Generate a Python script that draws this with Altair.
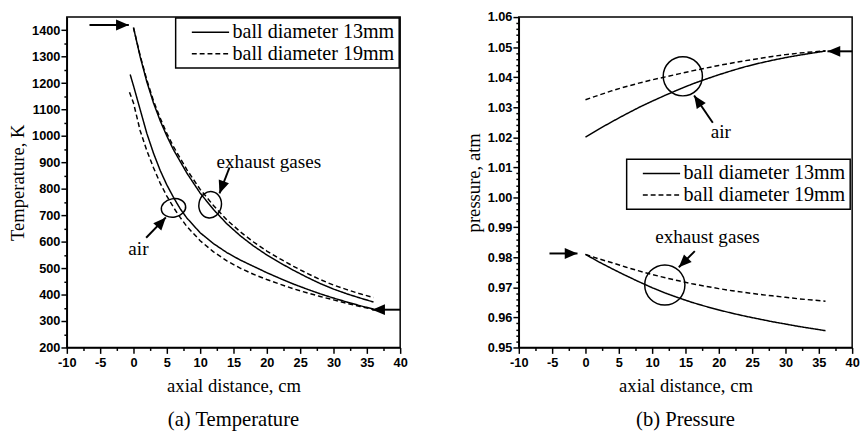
import altair as alt
import pandas as pd

SERIES = ["ball diameter 13mm", "ball diameter 19mm"]

# ---------------- (a) Temperature ----------------
x_exh = [0, 1, 2, 3, 4, 5, 6, 8, 10, 12, 14, 16, 18, 20, 22, 24, 26, 28, 30, 32, 34, 36]
T_exh_13 = [1410, 1300, 1205, 1125, 1058, 1000, 948, 860, 784, 722, 668, 623, 584, 550,
            520, 492, 466, 442, 421, 403, 387, 372]
T_exh_19 = [1410, 1304, 1212, 1133, 1068, 1010, 960, 873, 798, 737, 683, 638, 599, 565,
            535, 507, 481, 457, 436, 419, 403, 389]

x_air_13 = [-0.5, 0, 1, 2, 3, 4, 5, 6, 7, 8, 10, 12, 14, 16, 18, 20, 22, 24, 26, 28, 30, 32, 34, 36]
T_air_13 = [1233, 1190, 1100, 1010, 935, 870, 815, 768, 725, 690, 634, 593, 559, 531, 507,
            483, 461, 440, 421, 403, 387, 372, 358, 345]
x_air_19 = [-0.6, 0, 1, 2, 3, 4, 5, 6, 7, 8, 10, 12, 14, 16, 18, 20, 22, 24, 26, 28, 30, 32, 34, 36]
T_air_19 = [1166, 1125, 1020, 945, 880, 822, 773, 730, 692, 658, 604, 562, 528, 500, 477,
            457, 439, 422, 407, 393, 380, 367, 355, 344]

# ---------------- (b) Pressure ----------------
x_p = [0, 2, 4, 6, 8, 10, 12, 14, 16, 18, 20, 22, 24, 26, 28, 30, 32, 34, 36]
P_air_13 = [1.0200, 1.0227, 1.0252, 1.0276, 1.0299, 1.0320, 1.0340, 1.0359, 1.0377, 1.0393,
            1.0408, 1.0422, 1.0435, 1.0446, 1.0456, 1.0465, 1.0473, 1.0480, 1.0487]
P_air_19 = [1.0325, 1.0340, 1.0355, 1.0368, 1.0380, 1.0391, 1.0401, 1.0411, 1.0421, 1.0430,
            1.0439, 1.0447, 1.0455, 1.0462, 1.0469, 1.0475, 1.0480, 1.0484, 1.0488]
P_exh_13 = [0.9810, 0.9785, 0.9762, 0.9740, 0.9719, 0.9699, 0.9681, 0.9665, 0.9650, 0.9637,
            0.9625, 0.9614, 0.9604, 0.9595, 0.9586, 0.9578, 0.9570, 0.9563, 0.9556]
P_exh_19 = [0.9810, 0.9795, 0.9782, 0.9768, 0.9755, 0.9743, 0.9732, 0.9722, 0.9712, 0.9704,
            0.9696, 0.9689, 0.9683, 0.9677, 0.9672, 0.9667, 0.9662, 0.9658, 0.9654]

# ---------------- annotations ----------------
T_arrow_x = [-6.6, 40.0, 14.4, 1.9]
T_arrow_y = [1420, 343, 881, 615]
T_arrow_x2 = [-0.7, 35.8, 12.9, 4.85]
T_arrow_y2 = [1420, 343, 783, 692]
T_arrow_angle = [0, 180, 110, 312]

P_arrow_x = [40.0, -5.4, 19.1, 16.4]
P_arrow_y = [1.0486, 0.9813, 1.0248, 0.9821]
P_arrow_x2 = [36.3, -1.2, 16.3, 14.0]
P_arrow_y2 = [1.0486, 0.9813, 1.0339, 0.9767]
P_arrow_angle = [180, 0, 236, 135]

T_text = ["exhaust gases", "air"]
T_text_x = [20.3, 0.74]
T_text_y = [903, 572]
P_text = ["air", "exhaust gases"]
P_text_x = [20.3, 18.3]
P_text_y = [1.0216, 0.9866]

# ellipses: centre, major axis (px), minor/major ratio, rotation
T_ell_x = [6.0, 11.5]
T_ell_y = [728, 740]
T_ell_major = [25, 27]
T_ell_ratio = [0.75, 0.85]
T_ell_angle = [350, 280]
P_ell_x = [14.6, 11.9]
P_ell_y = [1.0403, 0.9708]
P_ell_major = [40, 41]
P_ell_ratio = [1.0, 1.0]
P_ell_angle = [0, 0]

SERIF = "Liberation Serif"
SANS = "Liberation Sans"
HEAD = "M0,0L-2,-0.85L-2,0.85Z"
LEG_SYMBOL = "M-2,0L2,0"


def ellipse_path(b):
    k = 0.5523
    return (f"M1,0C1,{k*b:.4f} {k},{b} 0,{b}C{-k},{b} -1,{k*b:.4f} -1,0"
            f"C-1,{-k*b:.4f} {-k},{-b} 0,{-b}C{k},{-b} 1,{-k*b:.4f} 1,0Z")


def line_rows(xs, ys, series, group):
    return [{"x": a, "y": b, "series": series, "group": group} for a, b in zip(xs, ys)]


def panel(lines_df, arrows_df, heads_df, texts_df, ell_df, ydomain, yaxis, title, ytitle, legend_xy):
    x_values = [-10 + 2.5 * i for i in range(21)]
    xenc = alt.X("x:Q", scale=alt.Scale(domain=[-10, 40], nice=False, zero=False),
                 title="axial distance, cm",
                 axis=alt.Axis(values=x_values,
                               labelExpr="datum.value % 5 === 0 ? replace(datum.label, '\u2212', '-') : ''",
                               tickSize={"condition": {"test": "datum.value % 5 === 0", "value": 6}, "value": 3},
                               labelFlush=False, labelOverlap=False, labelPadding=3,
                               titlePadding=8, labelFont=SANS, labelFontSize=13,
                               labelFontWeight="bold", labelColor="black"))
    yenc = alt.Y("y:Q", scale=alt.Scale(domain=ydomain, nice=False, zero=False),
                 axis=yaxis, title=ytitle)

    lines = alt.Chart(lines_df).mark_line(color="black", strokeWidth=1.5).encode(
        strokeDash=alt.StrokeDash(
            "series:N",
            scale=alt.Scale(domain=SERIES, range=[[1, 0], [5, 3]]),
            legend=alt.Legend(title=None, orient="none", legendX=legend_xy[0], legendY=legend_xy[1],
                              strokeColor="black", fillColor="white", padding=4,
                              labelFont=SERIF, labelFontSize=20.5, labelFontWeight="normal",
                              labelColor="black", labelLimit=400, symbolType=LEG_SYMBOL,
                              symbolSize=361, symbolStrokeWidth=1.5, symbolStrokeColor="black",
                              symbolOffset=21, labelOffset=12, rowPadding=1)),
        detail="group:N",
    )
    shafts = alt.Chart(arrows_df).mark_rule(color="black", strokeWidth=2).encode(
        x2="x2:Q", y2="y2:Q")
    heads = alt.Chart(heads_df).mark_point(filled=True, shape=HEAD, size=169, color="black",
                                           opacity=1, strokeWidth=0).encode(
        angle=alt.Angle("angle:Q", scale=None))
    texts = alt.Chart(texts_df).mark_text(font=SERIF, fontSize=19.5, color="black",
                                          align="center", baseline="middle").encode(
        text="label:N")
    ells = alt.Chart(ell_df).mark_point(filled=False, color="black", strokeWidth=1.5,
                                        opacity=1).encode(
        shape=alt.Shape("shape:N", scale=None),
        size=alt.Size("size:Q", scale=None), angle=alt.Angle("angle:Q", scale=None))

    return alt.layer(lines, shafts, heads, ells, texts).encode(x=xenc, y=yenc).properties(
        width=340, height=337,
        title=alt.TitleParams(title, orient="bottom", font=SERIF, fontSize=21,
                              fontWeight="normal", color="black", offset=14, anchor="middle"))


T_lines = pd.DataFrame(
    line_rows(x_exh, T_exh_13, SERIES[0], "exh13") + line_rows(x_exh, T_exh_19, SERIES[1], "exh19")
    + line_rows(x_air_13, T_air_13, SERIES[0], "air13") + line_rows(x_air_19, T_air_19, SERIES[1], "air19"))
P_lines = pd.DataFrame(
    line_rows(x_p, P_air_13, SERIES[0], "air13") + line_rows(x_p, P_air_19, SERIES[1], "air19")
    + line_rows(x_p, P_exh_13, SERIES[0], "exh13") + line_rows(x_p, P_exh_19, SERIES[1], "exh19"))

T_arrows = pd.DataFrame({"x": T_arrow_x, "y": T_arrow_y, "x2": T_arrow_x2, "y2": T_arrow_y2})
P_arrows = pd.DataFrame({"x": P_arrow_x, "y": P_arrow_y, "x2": P_arrow_x2, "y2": P_arrow_y2})
T_heads = pd.DataFrame({"x": T_arrow_x2, "y": T_arrow_y2, "angle": T_arrow_angle})
P_heads = pd.DataFrame({"x": P_arrow_x2, "y": P_arrow_y2, "angle": P_arrow_angle})
T_texts = pd.DataFrame({"x": T_text_x, "y": T_text_y, "label": T_text})
P_texts = pd.DataFrame({"x": P_text_x, "y": P_text_y, "label": P_text})
T_ell = pd.DataFrame({"x": T_ell_x, "y": T_ell_y, "shape": [ellipse_path(r) for r in T_ell_ratio],
                      "size": [m * m for m in T_ell_major], "angle": T_ell_angle})
P_ell = pd.DataFrame({"x": P_ell_x, "y": P_ell_y, "shape": [ellipse_path(r) for r in P_ell_ratio],
                      "size": [m * m for m in P_ell_major], "angle": P_ell_angle})

AXIS_STYLE = dict(labelOverlap=False, labelPadding=1, titlePadding=4, labelFont=SANS,
                  labelFontSize=13, labelFontWeight="bold", labelColor="black")
T_yvalues = [200 + 50 * i for i in range(25)]
T_yaxis = alt.Axis(values=T_yvalues, format="d",
                   labelExpr="datum.value % 100 === 0 ? datum.label : ''",
                   tickSize={"condition": {"test": "datum.value % 100 === 0", "value": 6}, "value": 3},
                   **AXIS_STYLE)
P_yvalues = [round(0.95 + 0.002 * i, 3) for i in range(56)]
major_test = "abs(datum.value*100 - round(datum.value*100)) < 0.01"
P_yaxis = alt.Axis(values=P_yvalues, format=".2f",
                   labelExpr=f"{major_test} ? datum.label : ''",
                   tickSize={"condition": {"test": major_test, "value": 6}, "value": 3},
                   **AXIS_STYLE)

left = panel(T_lines, T_arrows, T_heads, T_texts, T_ell, [200, 1450], T_yaxis, "(a) Temperature",
             "Temperature, K", (111, 1))
right = panel(P_lines, P_arrows, P_heads, P_texts, P_ell, [0.95, 1.06], P_yaxis, "(b) Pressure",
              "pressure, atm", (110, 145))

chart = alt.hconcat(left, right, spacing=56).resolve_scale(
    x="independent", y="independent", strokeDash="independent"
).resolve_legend(strokeDash="independent").properties(
    padding={"left": 0, "top": -2, "right": 0, "bottom": 0}, background="white"
).configure_view(stroke="black", strokeWidth=1.5).configure_axis(
    domainColor="black", domainWidth=1.5, tickColor="black", tickWidth=1.5, grid=False,
    titleFont=SERIF, titleFontSize=19, titleFontWeight="normal", titleColor="black"
).configure_legend(strokeWidth=1.5)

chart.save("out.html", embed_options={"renderer": "svg", "actions": False})
